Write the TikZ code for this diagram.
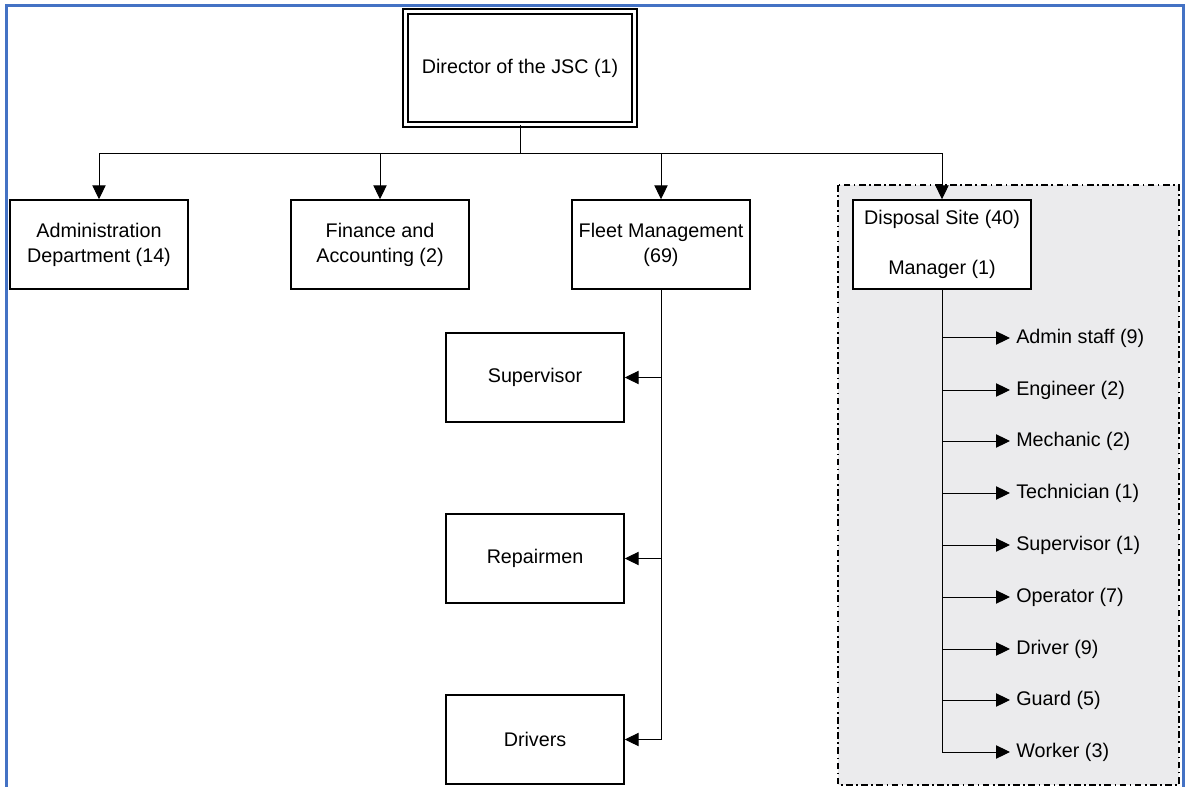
\documentclass[tikz,border=0pt]{standalone}
\usepackage{fontspec}
\setmainfont{Liberation Sans}
\usetikzlibrary{arrows.meta,calc}
\definecolor{frameblue}{HTML}{4472C4}
\definecolor{sitegray}{HTML}{EBEBED}
\begin{document}
\begin{tikzpicture}[x=0.75pt,y=-0.75pt,
  txt/.style={font=\fontsize{14.8}{18.75}\selectfont},
  box/.style={txt, draw, line width=1.1pt, fill=white, minimum width=133.5pt,
    minimum height=66.75pt, align=center, inner sep=0pt},
  topbox/.style={txt, draw, line width=1.1pt, double, double distance=2.6pt,
    minimum width=171.75pt, minimum height=84.75pt, inner sep=0pt},
  wire/.style={line width=0.75pt},
  link/.style={wire, -{Triangle[length=10.5pt,width=10pt]}},
  role/.style={txt, anchor=west, inner xsep=4.5pt, inner ysep=0pt}
]
\useasboundingbox (0,0) rectangle (1187,787);

% outer frame
\draw[frameblue, line width=2.25pt] (6,790) -- (6,6) -- (1183,6) -- (1183,790);

% disposal site group
\filldraw[fill=sitegray, draw=black, line width=1.1pt,
  dash pattern=on 5pt off 2.6pt on 1.2pt off 2.6pt] (838,185) rectangle (1179,785);

% top level
\node[topbox] (dir) at (520,68) {Director of the JSC (1)};

% departments
\node[box] (adm) at (99,244.5) {Administration\\Department (14)};
\node[box] (fin) at (380,244.5) {Finance and\\Accounting (2)};
\node[box] (flt) at (661,244.5) {Fleet Management\\(69)};
\node[box] (dsp) at (942,244.5) {Disposal Site (40)\\[18.75pt]Manager (1)};

% fleet units
\node[box] (sup) at (535,377.5) {Supervisor};
\node[box] (rep) at (535,558.5) {Repairmen};
\node[box] (drv) at (535,739.5) {Drivers};

% disposal site staff
\node[role] (r1) at (1010,338) {Admin staff (9)};
\node[role] (r2) at (1010,390) {Engineer (2)};
\node[role] (r3) at (1010,441) {Mechanic (2)};
\node[role] (r4) at (1010,493) {Technician (1)};
\node[role] (r5) at (1010,545) {Supervisor (1)};
\node[role] (r6) at (1010,597) {Operator (7)};
\node[role] (r7) at (1010,649) {Driver (9)};
\node[role] (r8) at (1010,700) {Guard (5)};
\node[role] (r9) at (1010,752) {Worker (3)};

% connectors
\coordinate (bus) at (520,154);
\draw[wire] (dir.south) -- (bus);
\draw[link] (bus) -| (adm.north);
\draw[link] (bus) -| (fin.north);
\draw[link] (bus) -| (flt.north);
\draw[link] (bus) -| (dsp.north);

\foreach \u in {sup,rep,drv}
  \draw[link] (flt.south) |- (\u.east);

\foreach \r in {r1,r2,r3,r4,r5,r6,r7,r8,r9}
  \draw[link] (dsp.south) |- (\r.west);
\end{tikzpicture}
\end{document}
